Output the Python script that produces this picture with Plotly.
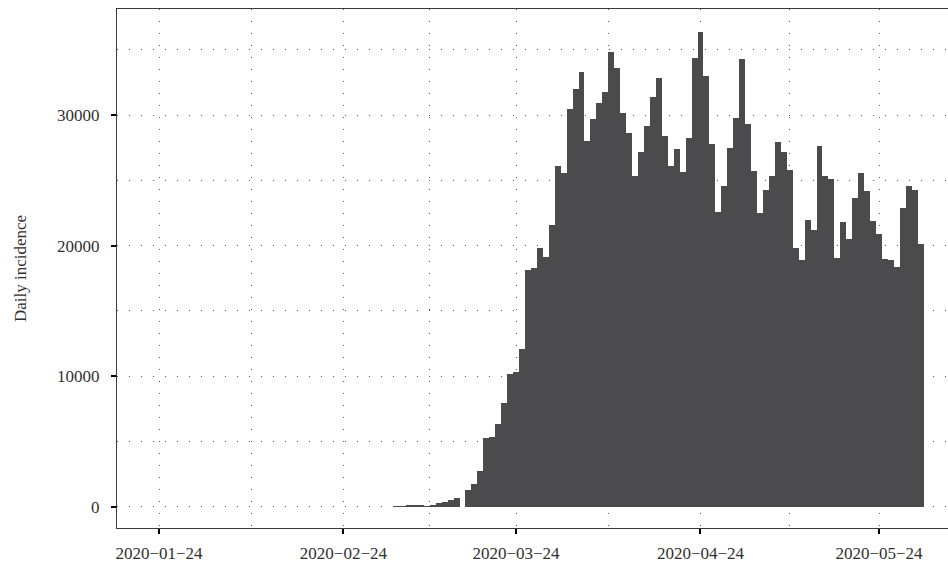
import pandas as pd
import plotly.graph_objects as go

# ---- data (daily incidence) ----
jan_values = [0, 0, 0, 0, 0, 0, 0, 0, 0, 0]  # Jan 22 - Jan 31
feb_values = [0, 0, 0, 0, 0, 0, 0, 0, 0, 0, 0, 0, 0, 0, 0, 0, 0, 0, 0, 0,
              0, 0, 0, 0, 0, 0, 0, 0, 0]  # Feb 1 - Feb 29
mar_values = [0, 0, 0, 30, 40, 70, 95, 100, 40, 110,
              310, 390, 490, 660, 0, 1290, 1730, 2720, 5260, 5340,
              6350, 7980, 10130, 10330, 12070, 18120, 18250, 19810, 19150, 21580,
              26110]
apr_values = [25550, 30460, 32020, 33280, 28000, 29720, 30920, 31770, 34840, 33580,
              30150, 28620, 25340, 27130, 29130, 31380, 32870, 28410, 26110, 27390,
              25620, 28230, 34330, 36390, 33020, 27770, 22550, 24600, 27490, 29800]
may_values = [34300, 29280, 25700, 22530, 24290, 25340, 27950, 27200, 25800, 19810,
              18910, 21950, 21190, 27600, 25300, 25120, 19075, 21780, 20480, 23670,
              25550, 24170, 21885, 20880, 18995, 18910, 18340, 22860, 24555, 24265,
              20130]

month_starts = ["2020-01-22", "2020-02-01", "2020-03-01", "2020-04-01", "2020-05-01"]
month_values = [jan_values, feb_values, mar_values, apr_values, may_values]

dates = []
values = []
for start, vals in zip(month_starts, month_values):
    dates += list(pd.date_range(start, periods=len(vals), freq="D"))
    values += vals

x_tick_vals = ["2020-01-24", "2020-02-24", "2020-03-24", "2020-04-24", "2020-05-24"]
x_tick_text = [d.replace("-", "\u2212") for d in x_tick_vals]
x_minor_vals = ["2020-02-08 12:00", "2020-03-09 12:00", "2020-04-08 12:00", "2020-05-09 00:00"]
y_tick_vals = [0, 10000, 20000, 30000]
y_minor_vals = [5000, 15000, 25000, 35000]

FONT = "Liberation Serif"
TXT = "#303030"
GRID = "#5a5a5a"
DASH = "1px,11px"

fig = go.Figure()
fig.add_trace(go.Bar(
    x=dates, y=values,
    width=86400000,
    marker=dict(color="#4b4b4d", line=dict(width=0)),
    hoverinfo="skip",
))

fig.update_layout(
    width=948, height=562,
    margin=dict(l=117, r=0, t=9, b=34, autoexpand=False),
    paper_bgcolor="white", plot_bgcolor="white",
    showlegend=False,
    bargap=0,
    font=dict(family=FONT, size=17, color=TXT),
)

fig.update_xaxes(
    type="date", automargin=False,
    range=["2020-01-16 22:36", "2020-06-04 14:18"],
    tickmode="array", tickvals=x_tick_vals, ticktext=x_tick_text,
    ticks="outside", ticklen=5, tickwidth=1.5, tickcolor="black",
    ticklabelstandoff=4,
    showline=True, mirror=True, linecolor="#3a3a3a", linewidth=1.3,
    showgrid=True, gridcolor=GRID, gridwidth=1, griddash=DASH,
    minor=dict(tickmode="array", tickvals=x_minor_vals, showgrid=True,
               gridcolor=GRID, gridwidth=1, griddash=DASH, ticks=""),
    zeroline=False,
    tickfont=dict(family=FONT, size=17, color=TXT),
)

fig.update_yaxes(
    automargin=False,
    range=[-1631, 38118],
    tickmode="array", tickvals=y_tick_vals,
    tickformat="d",
    ticks="outside", ticklen=5, tickwidth=1.5, tickcolor="black",
    ticklabelstandoff=8,
    showline=True, mirror=False, linecolor="#3a3a3a", linewidth=1.3,
    showgrid=True, gridcolor=GRID, gridwidth=1, griddash=DASH,
    minor=dict(tickmode="array", tickvals=y_minor_vals, showgrid=True,
               gridcolor=GRID, gridwidth=1, griddash=DASH, ticks=""),
    zeroline=False,
    tickfont=dict(family=FONT, size=17, color=TXT),
    title=dict(text="Daily incidence", standoff=26,
               font=dict(family=FONT, size=17, color=TXT)),
)

fig.write_html(
    "out.html",
    config={"displayModeBar": False},
    post_script="document.body.style.margin='0';document.body.style.overflow='hidden';",
)
